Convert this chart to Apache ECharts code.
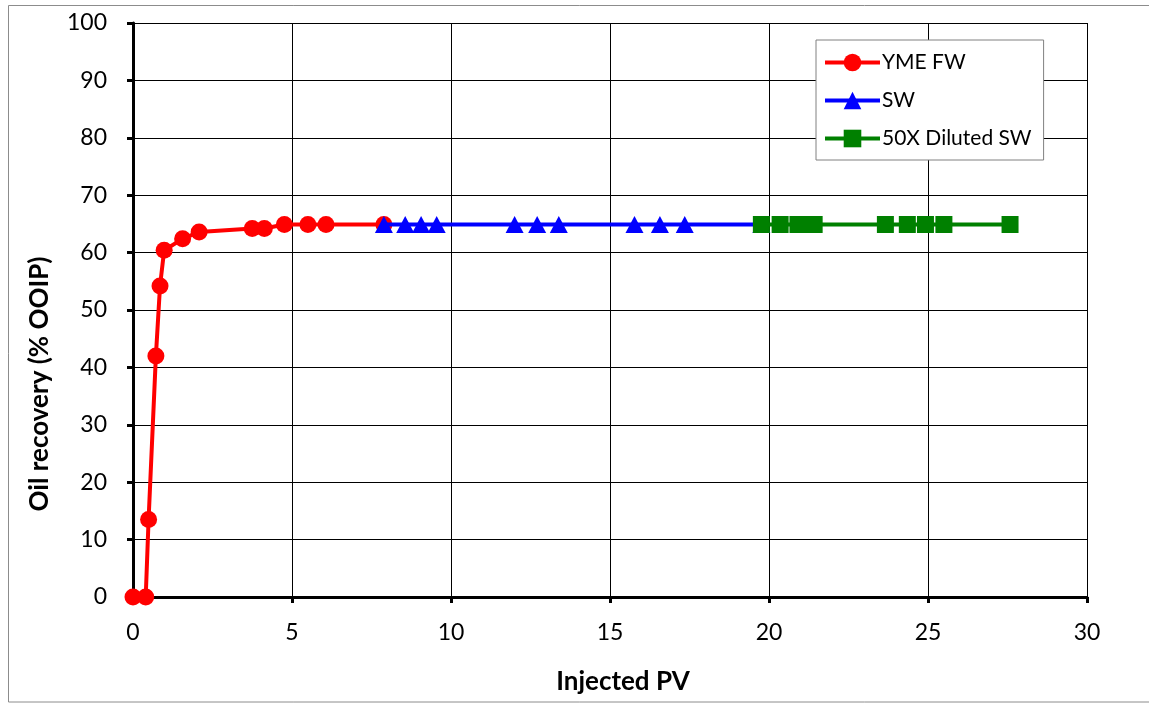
<!DOCTYPE html>
<html><head><meta charset="utf-8">
<script src="https://cdn.jsdelivr.net/npm/echarts@6/dist/echarts.min.js"></script>
<style>html,body{margin:0;padding:0;background:#fff}#c{width:1149px;height:703px}</style>
</head><body><div id="c"></div>
<script>
var ymeX = [0, 0.4, 0.49, 0.72, 0.85, 0.98, 1.56, 2.08, 3.75, 4.13, 4.76, 5.5, 6.07, 7.89];
var ymeY = [0, 0, 13.5, 42, 54.2, 60.4, 62.4, 63.6, 64.2, 64.2, 64.9, 64.9, 64.9, 64.9];
var swX = [7.89, 8.56, 9.06, 9.55, 12.0, 12.71, 13.39, 15.77, 16.57, 17.35, 19.76];
var swY = [64.9, 64.9, 64.9, 64.9, 64.9, 64.9, 64.9, 64.9, 64.9, 64.9, 64.9];
var dilX = [19.76, 20.35, 20.91, 21.42, 23.66, 24.35, 24.92, 25.5, 27.58];
var dilY = [64.9, 64.9, 64.9, 64.9, 64.9, 64.9, 64.9, 64.9, 64.9];
var seriesNames = ['YME FW', 'SW', '50X Diluted SW'];
var xTitle = 'Injected PV';
var yTitle = 'Oil recovery (% OOIP)';

function pairs(xs, ys){ return xs.map(function(x,i){return [x, ys[i]];}); }
var FONT = 'Lato, "Open Sans", sans-serif';
var chart = echarts.init(document.getElementById('c'), null, {renderer:'canvas'});
chart.setOption({
  animation:false,
  backgroundColor:'#fff',
  graphic:[{type:'rect', shape:{x:8.5,y:5.5,width:1160,height:696.5}, style:{fill:'none', stroke:'#8c8c8c', lineWidth:1}, z:-10}],
  grid:{left:133, top:23, right:62, bottom:106, show:false, containLabel:false, outerBoundsMode:'none'},
  legend:{
    orient:'vertical', left:816, top:40,
    backgroundColor:'#fff', borderColor:'#808080', borderWidth:1,
    padding:[12,12,11,7], itemGap:17, itemWidth:55, itemHeight:22,
    lineStyle:{width:4},
    textStyle:{fontFamily:FONT, fontSize:21, color:'#000', padding:[0,0,0,-3]},
    data:seriesNames
  },
  xAxis:{
    type:'value', min:0, max:30, interval:5,
    name:xTitle, nameLocation:'middle', nameGap:72,
    nameTextStyle:{fontFamily:FONT, fontSize:26, fontWeight:'bold', color:'#000', padding:[0,0,0,26]},
    axisLine:{show:true, onZero:false, lineStyle:{color:'#000', width:3}},
    axisTick:{show:true, inside:false, length:6, lineStyle:{color:'#000', width:3}},
    axisLabel:{fontFamily:FONT, fontSize:23, color:'#000', margin:24},
    splitLine:{show:true, lineStyle:{color:'#000', width:1}}
  },
  yAxis:{
    type:'value', min:0, max:100, interval:10,
    name:yTitle, nameLocation:'middle', nameGap:80,
    nameTextStyle:{fontFamily:FONT, fontSize:26, fontWeight:'bold', color:'#000', padding:[0,148,0,0]},
    axisLine:{show:true, onZero:false, lineStyle:{color:'#000', width:3}},
    axisTick:{show:true, inside:false, length:6, lineStyle:{color:'#000', width:3}},
    axisLabel:{fontFamily:FONT, fontSize:23, color:'#000', margin:26},
    splitLine:{show:true, lineStyle:{color:'#000', width:1}}
  },
  series:[
    {name:seriesNames[0], type:'line', data:pairs(ymeX, ymeY), symbol:'circle', symbolSize:17,
     lineStyle:{color:'#ff0000', width:4}, itemStyle:{color:'#ff0000'}, color:'#ff0000', z:3},
    {name:seriesNames[1], type:'line', data:pairs(swX, swY), symbol:'triangle', symbolSize:[18,17],
     lineStyle:{color:'#0000ff', width:4}, itemStyle:{color:'#0000ff'}, color:'#0000ff', z:4},
    {name:seriesNames[2], type:'line', data:pairs(dilX, dilY), symbol:'rect', symbolSize:17,
     lineStyle:{color:'#008000', width:4}, itemStyle:{color:'#008000'}, color:'#008000', z:5}
  ]
});
</script></body></html>
